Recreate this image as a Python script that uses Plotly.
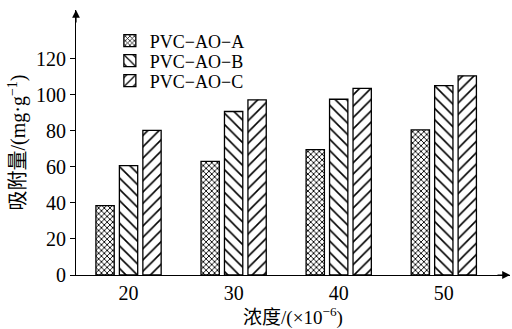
import plotly.graph_objects as go

categories = ["20", "30", "40", "50"]
series_names = ["PVC−AO−A", "PVC−AO−B", "PVC−AO−C"]
vals_a = [38.5, 63, 69.5, 80.5]
vals_b = [60.7, 90.7, 97.5, 105]
vals_c = [80.2, 97.2, 103.5, 110.5]
yticks = [0, 20, 40, 60, 80, 100, 120]

font = "Liberation Serif"
cjk_font = "Liberation Serif, Noto Sans CJK SC"
shapes = ["x", "\\", "/"]
sizes = [4, 8, 8]
solid = [0.4, 0.2, 0.2]
legends = ["legend", "legend2", "legend3"]
leg_y = [0.883, 0.808, 0.732]

fig = go.Figure()
for i, (name, vals) in enumerate(zip(series_names, [vals_a, vals_b, vals_c])):
    fig.add_trace(go.Bar(
        x=list(range(len(categories))), y=vals, name=name, legend=legends[i],
        marker=dict(color="white", line=dict(color="black", width=1.3),
                    pattern=dict(shape=shapes[i], fgcolor="black", fgopacity=1,
                                 bgcolor="white", size=sizes[i], solidity=solid[i])),
    ))

leg_common = dict(x=0.078, xanchor="left", yanchor="middle",
                  font=dict(family=font, size=18, color="black"),
                  bgcolor="rgba(0,0,0,0)", borderwidth=0)
fig.update_layout(
    width=512, height=329,
    margin=dict(l=76, r=2, t=10, b=54),
    plot_bgcolor="white", paper_bgcolor="white",
    barmode="group", bargap=0.33, bargroupgap=0.22,
    font=dict(family=font, size=20, color="black"),
    showlegend=True,
    legend=dict(y=leg_y[0], **leg_common),
    legend2=dict(y=leg_y[1], **leg_common),
    legend3=dict(y=leg_y[2], **leg_common),
    xaxis=dict(range=[-0.5, 3.63], tickmode="array",
               tickvals=list(range(len(categories))), ticktext=categories,
               showline=True, linecolor="black", linewidth=1.2,
               ticks="", showgrid=False, zeroline=False,
               tickfont=dict(family=font, size=20),
               title=dict(text="浓度/(×10<sup>−6</sup>)", standoff=2,
                          font=dict(family=cjk_font, size=19))),
    yaxis=dict(range=[0, 147], tickvals=yticks,
               showline=True, linecolor="black", linewidth=1.2,
               ticks="outside", ticklen=5, tickcolor="black",
               showgrid=False, zeroline=False,
               tickfont=dict(family=font, size=20),
               title=dict(text="吸附量/(mg·g<sup>−1</sup>)", standoff=4,
                          font=dict(family=cjk_font, size=20))),
)
# axis arrows
fig.add_annotation(xref="paper", yref="paper", x=0, y=1, ax=0, ay=14,
                   showarrow=True, arrowhead=2, arrowsize=1.3, arrowwidth=1.2,
                   arrowcolor="black", text="")
fig.add_annotation(xref="paper", yref="paper", x=1, y=0, ax=-14, ay=0,
                   showarrow=True, arrowhead=2, arrowsize=1.3, arrowwidth=1.2,
                   arrowcolor="black", text="")

fig.write_html("out.html")
